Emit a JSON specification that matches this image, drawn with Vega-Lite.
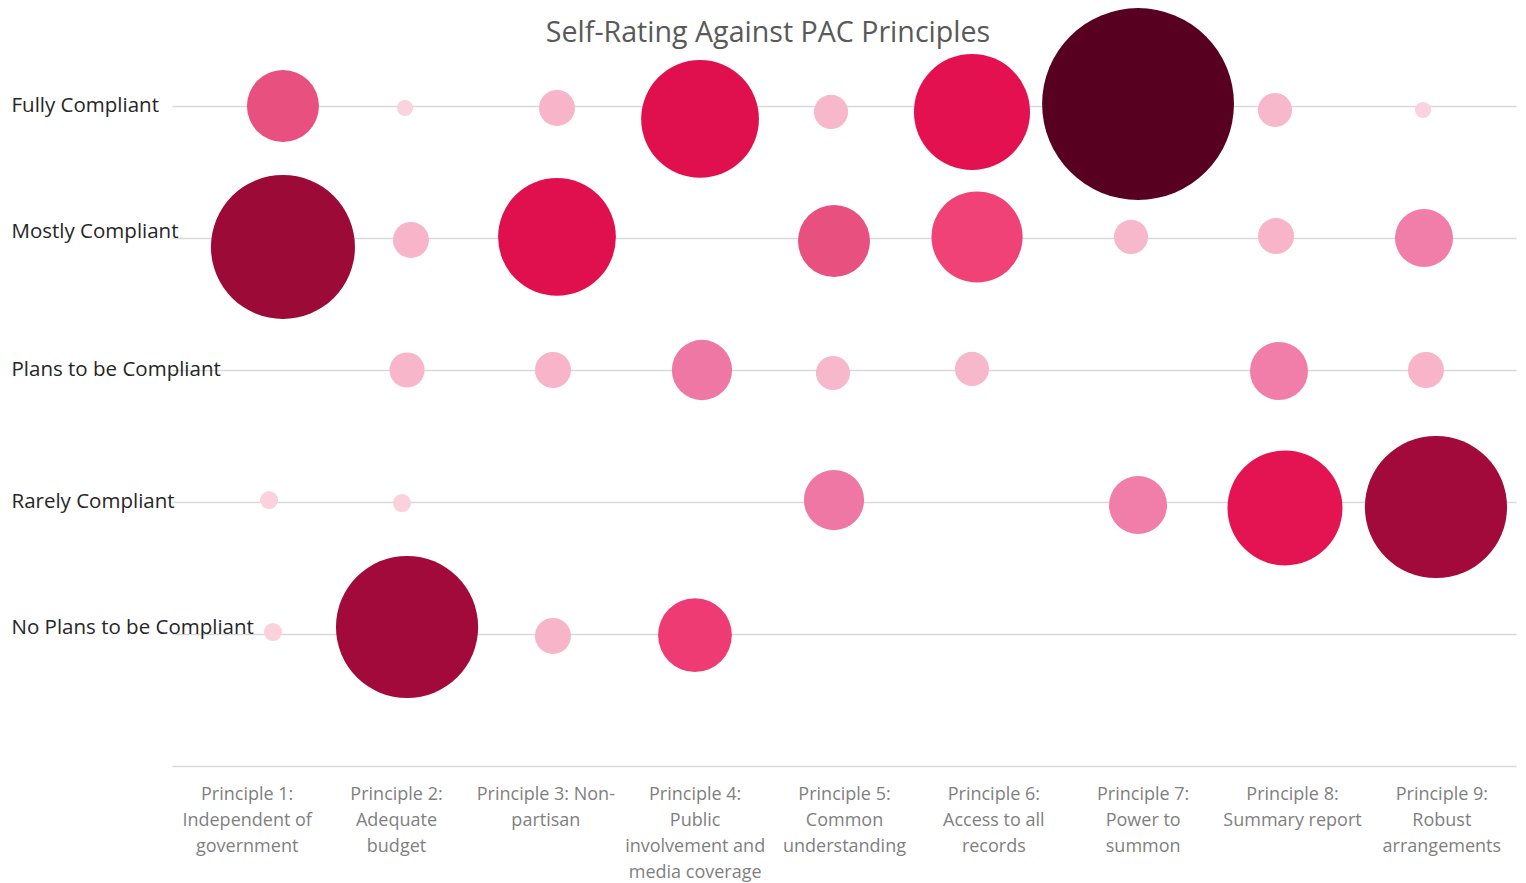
{
  "$schema": "https://vega.github.io/schema/vega-lite/v6.json",
  "autosize": "none",
  "width": 1344,
  "height": 766,
  "padding": {"left": 172, "top": 0, "right": 10, "bottom": 117},
  "background": "white",
  "title": {
    "text": "Self-Rating Against PAC Principles",
    "font": "Open Sans",
    "fontSize": 28.6,
    "fontWeight": "normal",
    "color": "#595959",
    "anchor": "middle",
    "frame": "group",
    "baseline": "middle",
    "offset": -62,
    "dx": -76
  },
  "data": {
    "values": [
      {"principle": "Principle 1", "rating": "Fully Compliant", "x": 1.243, "y": 5.0, "value": 4.0},
      {"principle": "Principle 2", "rating": "Fully Compliant", "x": 2.06, "y": 4.985, "value": 0.2},
      {"principle": "Principle 3", "rating": "Fully Compliant", "x": 3.078, "y": 4.985, "value": 1.0},
      {"principle": "Principle 4", "rating": "Fully Compliant", "x": 4.036, "y": 4.902, "value": 10.7},
      {"principle": "Principle 5", "rating": "Fully Compliant", "x": 4.913, "y": 4.955, "value": 0.9},
      {"principle": "Principle 6", "rating": "Fully Compliant", "x": 5.857, "y": 4.955, "value": 10.4},
      {"principle": "Principle 7", "rating": "Fully Compliant", "x": 6.969, "y": 5.015, "value": 28.4},
      {"principle": "Principle 8", "rating": "Fully Compliant", "x": 7.886, "y": 4.97, "value": 0.9},
      {"principle": "Principle 9", "rating": "Fully Compliant", "x": 8.877, "y": 4.97, "value": 0.2},
      {"principle": "Principle 1", "rating": "Mostly Compliant", "x": 1.243, "y": 3.932, "value": 16.0},
      {"principle": "Principle 2", "rating": "Mostly Compliant", "x": 2.1, "y": 3.985, "value": 1.0},
      {"principle": "Principle 3", "rating": "Mostly Compliant", "x": 3.078, "y": 4.008, "value": 10.7},
      {"principle": "Principle 5", "rating": "Mostly Compliant", "x": 4.933, "y": 3.977, "value": 4.0},
      {"principle": "Principle 6", "rating": "Mostly Compliant", "x": 5.891, "y": 4.008, "value": 6.4},
      {"principle": "Principle 7", "rating": "Mostly Compliant", "x": 6.922, "y": 4.008, "value": 0.9},
      {"principle": "Principle 8", "rating": "Mostly Compliant", "x": 7.893, "y": 4.015, "value": 1.0},
      {"principle": "Principle 9", "rating": "Mostly Compliant", "x": 8.884, "y": 4.0, "value": 2.6},
      {"principle": "Principle 2", "rating": "Plans to be Compliant", "x": 2.074, "y": 3.0, "value": 0.95},
      {"principle": "Principle 3", "rating": "Plans to be Compliant", "x": 3.051, "y": 3.0, "value": 1.0},
      {"principle": "Principle 4", "rating": "Plans to be Compliant", "x": 4.049, "y": 3.0, "value": 2.8},
      {"principle": "Principle 5", "rating": "Plans to be Compliant", "x": 4.926, "y": 2.977, "value": 0.9},
      {"principle": "Principle 6", "rating": "Plans to be Compliant", "x": 5.857, "y": 3.008, "value": 0.9},
      {"principle": "Principle 8", "rating": "Plans to be Compliant", "x": 7.913, "y": 2.992, "value": 2.6},
      {"principle": "Principle 9", "rating": "Plans to be Compliant", "x": 8.897, "y": 3.0, "value": 1.0},
      {"principle": "Principle 1", "rating": "Rarely Compliant", "x": 1.15, "y": 2.015, "value": 0.25},
      {"principle": "Principle 2", "rating": "Rarely Compliant", "x": 2.04, "y": 1.992, "value": 0.25},
      {"principle": "Principle 5", "rating": "Rarely Compliant", "x": 4.933, "y": 2.015, "value": 2.8},
      {"principle": "Principle 7", "rating": "Rarely Compliant", "x": 6.969, "y": 1.977, "value": 2.6},
      {"principle": "Principle 8", "rating": "Rarely Compliant", "x": 7.953, "y": 1.955, "value": 10.2},
      {"principle": "Principle 9", "rating": "Rarely Compliant", "x": 8.964, "y": 1.962, "value": 15.6},
      {"principle": "Principle 1", "rating": "No Plans to be Compliant", "x": 1.176, "y": 1.015, "value": 0.25},
      {"principle": "Principle 2", "rating": "No Plans to be Compliant", "x": 2.074, "y": 1.053, "value": 15.6},
      {"principle": "Principle 3", "rating": "No Plans to be Compliant", "x": 3.051, "y": 0.985, "value": 1.0},
      {"principle": "Principle 4", "rating": "No Plans to be Compliant", "x": 4.002, "y": 0.992, "value": 4.2}
    ]
  },
  "mark": {"type": "circle", "opacity": 1, "clip": false},
  "encoding": {
    "x": {
      "field": "x",
      "type": "quantitative",
      "scale": {"domain": [0.5, 9.5], "nice": false, "zero": false},
      "axis": {
        "title": null,
        "values": [1, 2, 3, 4, 5, 6, 7, 8, 9],
        "labelExpr": "split(['', 'Principle 1:|Independent of|government', 'Principle 2:|Adequate|budget', 'Principle 3: Non-|partisan', 'Principle 4:|Public|involvement and|media coverage', 'Principle 5:|Common|understanding', 'Principle 6:|Access to all|records', 'Principle 7:|Power to|summon', 'Principle 8:|Summary report', 'Principle 9:|Robust|arrangements'][datum.value], '|')",
        "labelFont": "Open Sans",
        "labelFontSize": 18,
        "labelColor": "#7f7f7f",
        "labelLineHeight": 26,
        "labelBaseline": "top",
        "labelPadding": 19,
        "labelOverlap": false,
        "labelLimit": 0,
        "labelFlush": false,
        "ticks": false,
        "grid": false,
        "domain": true,
        "domainColor": "#d9d9d9",
        "domainWidth": 1.5
      }
    },
    "y": {
      "field": "y",
      "type": "quantitative",
      "scale": {"domain": [0, 5.803], "nice": false, "zero": false},
      "axis": {
        "title": null,
        "values": [1, 2, 3, 4, 5],
        "labelExpr": "['', 'No Plans to be Compliant', 'Rarely Compliant', 'Plans to be Compliant', 'Mostly Compliant', 'Fully Compliant'][datum.value]",
        "labelFont": "Open Sans",
        "labelFontSize": 20.5,
        "labelColor": "#262626",
        "labelAlign": "left",
        "labelBaseline": "middle",
        "labelPadding": 161,
        "labelLimit": 0,
        "labelOverlap": false,
        "labelFlush": false,
        "labelOffset": {"condition": {"test": "datum.value == 4 || datum.value == 1", "value": -6}, "value": 0},
        "ticks": false,
        "domain": false,
        "grid": true,
        "gridColor": "#d9d9d9",
        "gridWidth": 1.5
      }
    },
    "size": {
      "field": "value",
      "type": "quantitative",
      "scale": {"type": "linear", "domain": [0, 10], "range": [0, 12960], "zero": true},
      "legend": null
    },
    "color": {
      "field": "value",
      "type": "quantitative",
      "scale": {
        "type": "linear",
        "domain": [0.2, 1, 2.7, 4, 4.2, 6.4, 10.5, 16, 28.4],
        "range": ["#fad3de", "#f8b4c9", "#ef7ba6", "#e8507f", "#ef3b73", "#f04277", "#e3104f", "#9c0a38", "#580020"],
        "interpolate": "rgb"
      },
      "legend": null
    },
    "order": {"field": "value", "type": "quantitative", "sort": "descending"}
  },
  "config": {
    "view": {"stroke": null},
    "font": "Open Sans"
  }
}
